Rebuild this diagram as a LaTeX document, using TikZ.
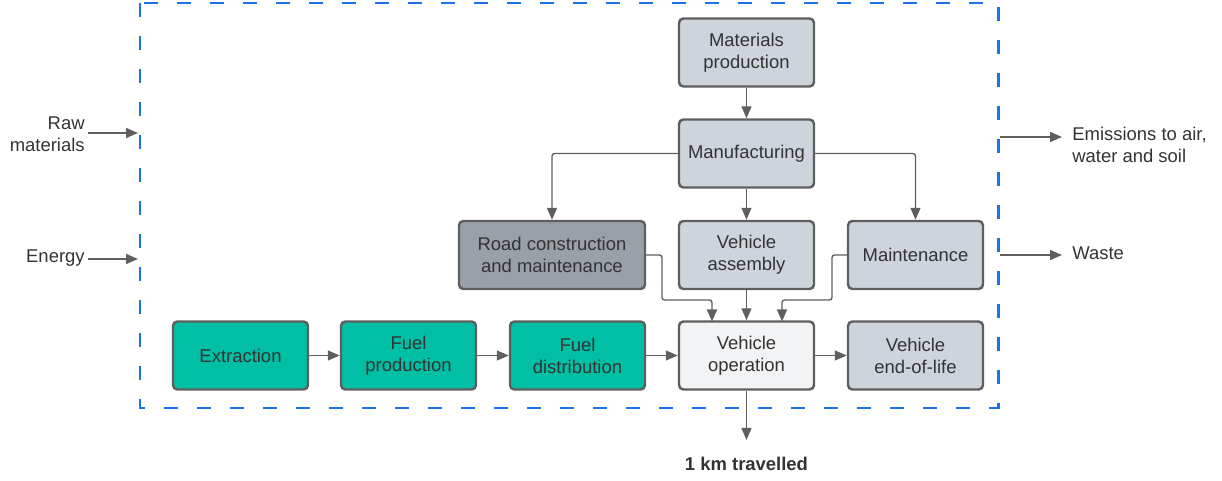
\documentclass[tikz,border=0pt]{standalone}
\usepackage{fontspec}
\setmainfont{Liberation Sans}
\usepackage{tikz}
\usetikzlibrary{arrows.meta}

\definecolor{boxgrey}{HTML}{CED4DC}
\definecolor{roadgrey}{HTML}{9AA0A8}
\definecolor{fuelteal}{HTML}{00BFA5}
\definecolor{opwhite}{HTML}{F2F3F5}
\definecolor{edgegrey}{HTML}{5F5F5F}
\definecolor{textgrey}{HTML}{333333}
\definecolor{sysblue}{HTML}{1A73E8}

\begin{document}
\begin{tikzpicture}[
    font=\fontsize{10.5}{12.5}\selectfont, text=textgrey,
    stage/.style={draw=edgegrey, line width=1.4pt, rounded corners=2.5pt, fill=boxgrey,
      minimum width=2.7cm, minimum height=1.36cm, align=center, inner sep=1pt},
    flow/.style={draw=edgegrey, line width=0.8pt, rounded corners=1.5pt,
      -{Triangle[length=0.24cm, width=0.2cm]}},
    label/.style={align=left, inner sep=0pt}
  ]
    \useasboundingbox (0,0) rectangle (24.44,-9.62);
    % System boundary
    \draw[sysblue, line width=1.7pt, dash pattern=on 0.28cm off 0.38cm] (2.80,-0.06) rectangle (19.96,-8.16);
    % Process boxes
    \node[stage] (matprod) at (14.93,-1.05) {Materials\\production};
    \node[stage] (manuf) at (14.93,-3.07) {Manufacturing};
    \node[stage, fill=roadgrey, minimum width=3.72cm] (road) at (11.04,-5.10) {Road construction\\and maintenance};
    \node[stage] (assembly) at (14.93,-5.10) {Vehicle\\assembly};
    \node[stage] (maint) at (18.31,-5.10) {Maintenance};
    \node[stage, fill=fuelteal] (extract) at (4.81,-7.11) {Extraction};
    \node[stage, fill=fuelteal] (fuelprod) at (8.17,-7.11) {Fuel\\production};
    \node[stage, fill=fuelteal] (fueldist) at (11.55,-7.11) {Fuel\\distribution};
    \node[stage, fill=opwhite] (operation) at (14.93,-7.11) {Vehicle\\operation};
    \node[stage] (endlife) at (18.31,-7.11) {Vehicle\\end-of-life};
    % Inputs and outputs
    \node[label, align=right, anchor=east] (rawmat) at (1.70,-2.68) {Raw\\materials};
    \node[label, anchor=east] (energy) at (1.70,-5.17) {Energy};
    \node[label, anchor=west] (emissions) at (21.44,-2.90) {Emissions to air,\\water and soil};
    \node[label, anchor=west] (waste) at (21.44,-5.07) {Waste};
    \node[label, font=\fontsize{10.5}{12.5}\selectfont\bfseries] (km) at (14.93,-9.28) {1 km travelled};
    \coordinate (rawin) at (2.76,-2.66);
    \coordinate (energyin) at (2.76,-5.18);
    \coordinate (emisout) at (20.00,-2.74);
    \coordinate (wasteout) at (20.00,-5.10);
    \coordinate (kmin) at (14.93,-8.80);
    % Connectors
    \draw[flow] (matprod) -- (manuf);
    \draw[flow] (manuf) -- (assembly);
    \draw[flow] (manuf.west) -| (road.north);
    \draw[flow] (manuf.east) -| (maint.north);
    \draw[flow] (road.east) -- (13.24,-5.10) |- (14.24,-6.00) -- (14.24,-6.43);
    \draw[flow] (maint.west) -- (16.64,-5.10) |- (15.64,-6.00) -- (15.64,-6.43);
    \draw[flow] (assembly) -- (operation);
    \draw[flow] (extract) -- (fuelprod);
    \draw[flow] (fuelprod) -- (fueldist);
    \draw[flow] (fueldist) -- (operation);
    \draw[flow] (operation) -- (endlife);
    \draw[flow] (operation) -- (kmin);
    \draw[flow] (rawmat.east |- rawin) ++(0.06,0) -- (rawin);
    \draw[flow] (energy.east |- energyin) ++(0.06,0) -- (energyin);
    \draw[flow] (emisout) -- ++(1.24,0);
    \draw[flow] (wasteout) -- ++(1.24,0);
  \end{tikzpicture}
\end{document}
